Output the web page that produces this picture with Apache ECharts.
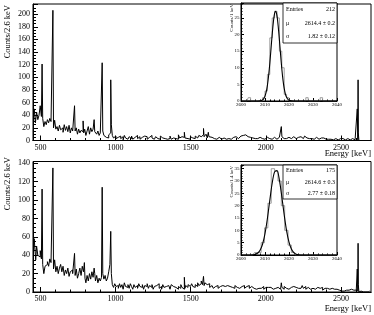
<!DOCTYPE html>
<html><head><meta charset="utf-8">
<script src="https://cdn.jsdelivr.net/npm/echarts@6/dist/echarts.min.js"></script>
<style>html,body{margin:0;padding:0;background:#fff}#c{width:374px;height:315px}</style>
</head><body><div id="c"></div>
<script>
// ---------- data ----------
const xTickLabels = [500, 1000, 1500, 2000, 2500];
const xMinorTicks = [500,600,700,800,900,1000,1100,1200,1300,1400,1500,1600,1700,1800,1900,2000,2100,2200,2300,2400,2500,2600];
const contStart = 454, contStep = 8; // bin centres of the continuum (keV)

// top spectrum continuum (counts / 2.6 keV)
const topCont = [
 42,50,28,45,33,40,55,38,35,22,30,25,33,28,35,30,
 30,20,32,18,22,15,24,17,20,13,25,16,22,14,24,12,20,15,
 18,15,20,10,18,12,16,14,12,18,8,15,22,10,20,14,18,14,14,10,15,8,12,10,15,8,5,7,4,9,12,25,8,4,7,3,
 5,2,7,3,6,1,8,4, 5,2,6,3,7,2,5,4, 8,3,6,2,5,3,7,4, 6,2,5,3,8,4,5,2, 6,3,5,2,7,4,5,3, 6,2,5,3,7,2,4,6, 3,5,2,9,4,6,3,5,
 4,6,3,5,2,6,4,5, 3,7,4,5,8,6,4,9, 6,5,10,4,6,3,5,4, 3,5,2,4,3,5,2,4, 3,4,2,5,3,4,2,4,
 3,5,4,6,3,5,4,7, 6,8,7,9,6,8,5,6, 4,5,3,5,4,3,5,4, 3,5,2,4,3,5,3,4, 2,4,3,5,2,4,3,5,
 4,6,3,5,4,3,5,4, 3,5,4,6,3,4,5,3, 4,6,3,5,7,4,5,3, 4,3,5,2,4,3,5,2, 3,4,2,3,4,2,3,2,
 3,2,4,1,3,2,3,1, 2,3,1,2,3,1,2,3, 2,1,2,3,1,2,1,2, 1,0,1,0,1,0,0,1, 0,1,0
];
const topPeakE = [511, 583, 727, 785, 860, 911, 969, 1461, 1588, 1620, 2104, 2611, 2614, 2617];
const topPeakC = [121, 206, 55, 31, 33, 123, 96, 13, 19, 13, 22, 50, 96, 12];

// bottom spectrum continuum
const botCont = [
 45,58,35,50,40,38,45,36,30,20,28,30,33,28,36,32,
 30,25,35,22,28,20,26,30,22,28,18,24,20,26,17,22,24,20,
 22,18,25,15,20,26,18,28,22,15,10,18,12,20,14,22,16,20,12,18,10,15,12,16,20,14,18,12,15,22,30,20,8,5,9,6,
 7,4,9,5,8,3,10,6, 5,8,4,9,6,3,8,5, 7,4,9,6,5,8,3,7, 6,9,4,7,5,8,3,6, 7,5,9,4,6,3,8,5, 6,4,7,5,3,8,6,4, 5,7,3,6,4,8,5,3,
 4,7,5,8,6,4,9,6, 5,8,6,10,7,9,12,8, 7,10,8,6,9,5,7,6, 4,6,5,7,4,6,5,7, 5,6,4,7,5,6,4,5,
 6,4,7,5,6,4,5,6, 5,7,4,6,5,7,4,6, 5,4,6,3,5,4,6,4, 4,6,3,5,4,5,3,5, 4,3,5,4,3,5,4,3,
 4,5,3,6,4,5,3,4, 5,3,6,4,5,3,4,6, 4,5,7,4,6,3,5,4, 3,5,4,6,3,4,5,3, 4,3,5,2,4,3,4,2,
 3,2,4,2,3,1,3,2, 2,3,1,2,1,3,2,1, 2,1,3,1,2,1,2,2, 1,0,1,0,0,1,0,0, 0,1,0
];
const botPeakE = [466, 511, 583, 727, 794, 860, 911, 969, 1461, 1588, 1620, 2104, 2611, 2614, 2617];
const botPeakC = [60, 112, 135, 42, 32, 26, 114, 66, 16, 17, 10, 10, 25, 53, 8];

// insets: 2614 keV peak
const insTopStart = 2600, insTopW = 1;
const insTopHist = [0,0,0,1,0,0,0,0,0,1, 3,8,19,25,27,25,15,10,2,1, 0,0,0,0,0,0,0,1,0,0, 0,0,0,1,0,0,0,0,0,0];
const fitTopE = [2600,2607,2608,2608.5,2609,2609.5,2610,2610.5,2611,2611.5,2612,2612.5,2613,2613.5,2614,2614.5,2615,2615.5,2616,2616.5,2617,2617.5,2618,2618.5,2619,2619.5,2620,2621,2622,2640];
const fitTopY = [0,0.01,0.06,0.14,0.33,0.72,1.46,2.72,4.72,7.59,11.3,15.7,20.1,23.9,26.4,27.0,25.6,22.5,18.4,13.9,9.7,6.3,3.8,2.1,1.1,0.53,0.24,0.04,0,0];

const insBotStart = 2600, insBotW = 1.4;
const insBotHist = [0,0,0,0,1,1,5,11,21,35,34,30,20,10,4,1,0,0,0,0,0,0,0,0,0,0,0,0,0];
const fitBotE = [2600,2603,2604,2605,2606,2607,2608,2609,2610,2611,2612,2613,2614,2615,2616,2617,2618,2619,2620,2621,2622,2623,2624,2626,2640];
const fitBotY = [0,0,0.02,0.09,0.28,0.80,2.02,4.47,8.7,14.8,22.2,29.2,33.7,34.2,30.4,23.7,16.3,9.8,5.2,2.4,0.97,0.35,0.11,0.01,0];

const statTop = {entries: '212', mu: '2614.4 ± 0.2', sigma: '1.82 ± 0.12'};
const statBot = {entries: '175', mu: '2614.6 ± 0.3', sigma: '2.77 ± 0.18'};

// ---------- build ----------
function spectrum(cont, pe, pc) {
  const pts = cont.map((v, i) => [contStart + i * contStep, v]);
  pe.forEach((e, i) => pts.push([e, pc[i]]));
  pts.sort((a, b) => a[0] - b[0]);
  return pts;
}
function hist(start, w, arr) { return arr.map((v, i) => [start + w * (i + 0.5), v]); }
function zip(a, b) { return a.map((v, i) => [v, b[i]]); }

const FF = 'Liberation Serif';
const black = '#000';
const plain = v => String(v);
function mainX(g, major) {
  return {
    type: 'value', gridIndex: g, min: 450, max: 2700, position: 'bottom',
    axisLine: {show: true, lineStyle: {color: black, width: 1}},
    axisTick: {show: true, inside: true, length: major ? 5 : 2.5, customValues: major ? xTickLabels : xMinorTicks, lineStyle: {color: black}},
    axisLabel: major ? {show: true, customValues: xTickLabels, fontFamily: FF, fontSize: 8, color: black, margin: 3, formatter: plain} : {show: false},
    splitLine: {show: false}
  };
}
function mainY(g, max) {
  return {
    type: 'value', gridIndex: g, min: 0, max: max, interval: 20,
    axisLine: {show: true, lineStyle: {color: black}},
    axisTick: {show: true, inside: true, length: 5, lineStyle: {color: black}},
    minorTick: {show: true, splitNumber: 4, length: 3, lineStyle: {color: black}},
    axisLabel: {fontFamily: FF, fontSize: 8, color: black, margin: 3, formatter: v => (v % 20 === 0 ? String(v) : '')},
    splitLine: {show: false}
  };
}
function insX(g) {
  return {
    type: 'value', gridIndex: g, min: 2600, max: 2640, interval: 10,
    axisLine: {show: true, lineStyle: {color: black}},
    axisTick: {show: true, inside: true, length: 3, lineStyle: {color: black}},
    minorTick: {show: true, splitNumber: 5, length: 1.5, lineStyle: {color: black}},
    axisLabel: {fontFamily: FF, fontSize: 5, color: black, margin: 1.5, formatter: plain},
    splitLine: {show: false}
  };
}
function insY(g, max) {
  return {
    type: 'value', gridIndex: g, min: 0, max: max, interval: 5,
    axisLine: {show: true, lineStyle: {color: black}},
    axisTick: {show: true, inside: true, length: 3, lineStyle: {color: black}},
    minorTick: {show: true, splitNumber: 5, length: 1.5, lineStyle: {color: black}},
    axisLabel: {fontFamily: FF, fontSize: 5, color: black, margin: 1.5, formatter: v => (v % 5 === 0 ? String(v) : '')},
    splitLine: {show: false}
  };
}
function statBox(x, y, w, h, s) {
  const items = [
    {type: 'rect', shape: {x: x, y: y, width: w, height: h}, style: {fill: '#fff', stroke: black, lineWidth: 0.8}, z: 100},
  ];
  const rows = [['Entries', s.entries], ['μ', s.mu], ['σ', s.sigma]];
  rows.forEach((r, i) => {
    const cy = y + h * (i + 0.5) / 3;
    items.push({type: 'text', x: x + 3, y: cy, z: 101, style: {text: r[0], fontFamily: FF, fontSize: 6, fill: black, align: 'left', verticalAlign: 'middle'}});
    items.push({type: 'text', x: x + w - 2, y: cy, z: 101, style: {text: r[1], fontFamily: FF, fontSize: 6, fill: black, align: 'right', verticalAlign: 'middle'}});
  });
  return items;
}
function vtext(x, y, txt, size) {
  return {type: 'text', x: x, y: y, rotation: Math.PI / 2, z: 50,
    style: {text: txt, fontFamily: FF, fontSize: size, fill: black, align: 'right', verticalAlign: 'middle'}};
}
function htext(x, y, txt, size) {
  return {type: 'text', x: x, y: y, z: 50,
    style: {text: txt, fontFamily: FF, fontSize: size, fill: black, align: 'right', verticalAlign: 'middle'}};
}

const gridBase = {show: true, borderColor: black, borderWidth: 1, backgroundColor: 'transparent', containLabel: false};
const option = {
  animation: false,
  backgroundColor: '#fff',
  grid: [
    Object.assign({left: 33, right: 3, top: 4, bottom: 174.5}, gridBase),
    Object.assign({left: 33, right: 3, top: 161.5, bottom: 23}, gridBase),
    Object.assign({left: 241, right: 37, top: 3, bottom: 214}, gridBase),
    Object.assign({left: 241, right: 37, top: 165, bottom: 60}, gridBase)
  ],
  xAxis: [mainX(0, true), mainX(1, true), insX(2), insX(3), mainX(0, false), mainX(1, false)],
  yAxis: [mainY(0, 216), mainY(1, 142), insY(2, 29.5), insY(3, 36.5)],
  series: [
    {type: 'line', xAxisIndex: 0, yAxisIndex: 0, step: 'middle', data: spectrum(topCont, topPeakE, topPeakC), showSymbol: false, lineStyle: {color: black, width: 1}, clip: true},
    {type: 'line', xAxisIndex: 1, yAxisIndex: 1, step: 'middle', data: spectrum(botCont, botPeakE, botPeakC), showSymbol: false, lineStyle: {color: black, width: 1}, clip: true},
    {type: 'line', xAxisIndex: 2, yAxisIndex: 2, step: 'middle', data: hist(insTopStart, insTopW, insTopHist), showSymbol: false, lineStyle: {color: '#888', width: 0.8}, clip: true},
    {type: 'line', xAxisIndex: 2, yAxisIndex: 2, smooth: 0.3, data: zip(fitTopE, fitTopY), showSymbol: false, lineStyle: {color: black, width: 1.1}, clip: true},
    {type: 'line', xAxisIndex: 3, yAxisIndex: 3, step: 'middle', data: hist(insBotStart, insBotW, insBotHist), showSymbol: false, lineStyle: {color: '#888', width: 0.8}, clip: true},
    {type: 'line', xAxisIndex: 3, yAxisIndex: 3, smooth: 0.3, data: zip(fitBotE, fitBotY), showSymbol: false, lineStyle: {color: black, width: 1.1}, clip: true}
  ],
  graphic: [
    vtext(8, 5, 'Counts/2.6 keV', 8.5),
    vtext(8, 157, 'Counts/2.6 keV', 8.5),
    htext(371, 154, 'Energy [keV]', 8.5),
    htext(371, 309, 'Energy [keV]', 8.5),
    vtext(232, 4, 'Counts/1 keV', 5),
    vtext(232, 166, 'Counts/1.4 keV', 5)
  ].concat(statBox(283, 3, 54, 40, statTop)).concat(statBox(283, 165, 54, 34, statBot))
};
const chart = echarts.init(document.getElementById('c'), null, {renderer: 'canvas'});
chart.setOption(option);
</script></body></html>
